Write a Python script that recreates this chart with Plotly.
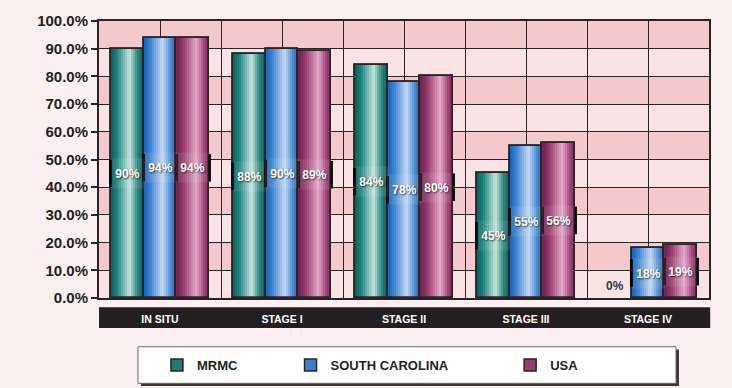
import plotly.graph_objects as go

# ---- data -------------------------------------------------------------
categories = ["IN SITU", "STAGE I", "STAGE II", "STAGE III", "STAGE IV"]
mrmc = [90, 88, 84, 45, 0]
south_carolina = [94, 90, 78, 55, 18]
usa = [94, 89, 80, 56, 19]
y_ticks = [0, 10, 20, 30, 40, 50, 60, 70, 80, 90, 100]

# ---- styling ----------------------------------------------------------
INK = "#2a2426"
PAPER = "#fbeff1"
BAND_LIGHT = "#f9e3e5"
BAND_DARK = "#f4c9cc"
BAR_W = 0.27
OFFSETS = [-0.405, -0.135, 0.135]

# cylinder-like horizontal shading for each series (position, colour)
GRADIENTS = {
    "MRMC": [(0.0, "#0a625d"), (0.18, "#17807a"), (0.58, "#c6e4dc"),
             (0.82, "#2b8b83"), (1.0, "#0b605b")],
    "SOUTH CAROLINA": [(0.0, "#1663b6"), (0.2, "#3c84d2"), (0.58, "#c6d8f3"),
                       (0.84, "#4a8bd5"), (1.0, "#1c66b6")],
    "USA": [(0.0, "#6c2450"), (0.2, "#983a6e"), (0.6, "#e3a9c7"),
            (0.84, "#a6457a"), (1.0, "#74285a")],
}
BASE = {"MRMC": "#1b7f78", "SOUTH CAROLINA": "#3d82d0", "USA": "#9b3c70"}

series = [("MRMC", mrmc), ("SOUTH CAROLINA", south_carolina), ("USA", usa)]
x_pos = list(range(len(categories)))


def hex_to_rgb(h):
    h = h.lstrip("#")
    return tuple(int(h[i:i + 2], 16) for i in (0, 2, 4))


def shade(stops, t):
    for (p0, c0), (p1, c1) in zip(stops, stops[1:]):
        if p0 <= t <= p1:
            f = (t - p0) / (p1 - p0)
            a, b = hex_to_rgb(c0), hex_to_rgb(c1)
            r = [round(a[k] + (b[k] - a[k]) * f) for k in range(3)]
            return f"rgb({r[0]},{r[1]},{r[2]})"
    return stops[-1][1]


fig = go.Figure()
N_STRIPES = 16
legend_ids = ["legend", "legend2", "legend3"]

for (name, vals), off, leg in zip(series, OFFSETS, legend_ids):
    # empty bars get no outline
    edge_w = [0 if v == 0 else 1.5 for v in vals]
    # base bar (also provides the legend swatch)
    fig.add_trace(go.Bar(
        x=x_pos, y=vals, name=name, width=BAR_W, offset=off,
        marker=dict(color=BASE[name], line=dict(color=INK, width=edge_w)),
        legend=leg, hoverinfo="skip",
    ))
    # vertical stripes giving the rounded shading
    sw = BAR_W / N_STRIPES
    for i in range(N_STRIPES):
        t = (i + 0.5) / N_STRIPES
        fig.add_trace(go.Bar(
            x=x_pos, y=vals, width=sw * (1.35 if i < N_STRIPES - 1 else 1.0),
            offset=off + i * sw,
            marker=dict(color=shade(GRADIENTS[name], t), line=dict(width=0)),
            showlegend=False, hoverinfo="skip",
        ))
    # outline on top
    fig.add_trace(go.Bar(
        x=x_pos, y=vals, width=BAR_W, offset=off,
        marker=dict(color="rgba(0,0,0,0)",
                    line=dict(color=INK, width=[0 if v == 0 else 1.8 for v in vals])),
        showlegend=False, hoverinfo="skip",
    ))

# value labels with their small framed bands
annotations = []
shapes = []
LABEL_HALF = 5.0  # half height of the label band, in axis units
for si, ((name, vals), off) in enumerate(zip(series, OFFSETS)):
    for xi, v in zip(x_pos, vals):
        cx = xi + off + BAR_W / 2
        if v == 0:
            annotations.append(dict(
                x=cx, y=0, xref="x", yref="y", text=f"{v}%", showarrow=False,
                yanchor="bottom", yshift=3,
                font=dict(family="Liberation Sans", size=12, weight="bold",
                          color="#3a3436"),
            ))
            continue
        annotations.append(dict(
            x=cx, y=v / 2, xref="x", yref="y", text=f"{v}%", showarrow=False,
            width=31, height=27, bgcolor="rgba(255,255,255,0.09)",
            font=dict(family="Liberation Sans", size=12, weight="bold",
                      color="white", shadow="1px 1px 2px rgba(0,0,0,0.7)"),
        ))
        edges = [xi + off]
        if si == len(series) - 1:
            edges.append(xi + off + BAR_W)
        for ex in edges:
            shapes.append(dict(type="line", xref="x", yref="y", x0=ex, x1=ex,
                               y0=v / 2 - LABEL_HALF, y1=v / 2 + LABEL_HALF,
                               line=dict(color="black", width=3), layer="above"))

# alternating horizontal bands behind the grid
for k, (lo, hi) in enumerate(zip(y_ticks[:-1], y_ticks[1:])):
    if k % 2 == 1:
        shapes.append(dict(type="rect", xref="paper", yref="y", x0=0, x1=1,
                           y0=lo, y1=hi, fillcolor=BAND_DARK, line=dict(width=0),
                           layer="below"))

# dark strip carrying the category names
shapes.append(dict(type="rect", xref="paper", yref="paper", x0=0.0, x1=1.002,
                   y0=-0.108, y1=-0.033, fillcolor="#231f20", line=dict(width=0),
                   layer="below"))
# legend frame with drop shadow
shapes.append(dict(type="rect", xref="paper", yref="paper", x0=0.0689, x1=0.9508,
                   y0=-0.318, y1=-0.186, fillcolor="#3b3537", line=dict(width=0),
                   layer="below"))
shapes.append(dict(type="rect", xref="paper", yref="paper", x0=0.0639, x1=0.9459,
                   y0=-0.308, y1=-0.176, fillcolor="white",
                   line=dict(color="#6b6567", width=1), layer="below"))

legend_font = dict(family="Liberation Sans", size=13, weight="bold", color="#231f20")
legend_common = dict(orientation="h", yref="container", yanchor="middle", y=0.059,
                     xanchor="left", bgcolor="rgba(0,0,0,0)", borderwidth=0,
                     font=legend_font)

fig.update_layout(
    width=732, height=388,
    margin=dict(l=99, r=23, t=19, b=90),
    paper_bgcolor=PAPER, plot_bgcolor=BAND_LIGHT,
    barmode="overlay", bargap=0,
    showlegend=True,
    legend=dict(x=0.095, **legend_common),
    legend2=dict(x=0.314, **legend_common),
    legend3=dict(x=0.674, **legend_common),
    annotations=annotations, shapes=shapes,
    xaxis=dict(
        range=[-0.5, 4.5], tickmode="array", tickvals=x_pos, ticktext=categories,
        showgrid=True, gridcolor=INK, gridwidth=1,
        minor=dict(tickmode="array", tickvals=[0.5, 1.5, 2.5, 3.5],
                   showgrid=True, gridcolor=INK, gridwidth=1, ticks=""),
        ticks="", ticklabelstandoff=10,
        tickfont=dict(family="Liberation Sans", size=10.5, weight="bold", color="white"),
        showline=True, mirror=True, linecolor=INK, linewidth=2, zeroline=False,
    ),
    yaxis=dict(
        range=[0, 100], tickmode="array", tickvals=y_ticks,
        ticktext=[f"{t:.1f}%" for t in y_ticks],
        showgrid=True, gridcolor=INK, gridwidth=1,
        ticks="outside", ticklen=6, tickwidth=1.5, tickcolor=INK,
        tickfont=dict(family="Liberation Sans", size=15, weight="bold", color="#231f20"),
        showline=True, mirror=True, linecolor=INK, linewidth=2, zeroline=False,
    ),
)

fig.write_html("out.html")
